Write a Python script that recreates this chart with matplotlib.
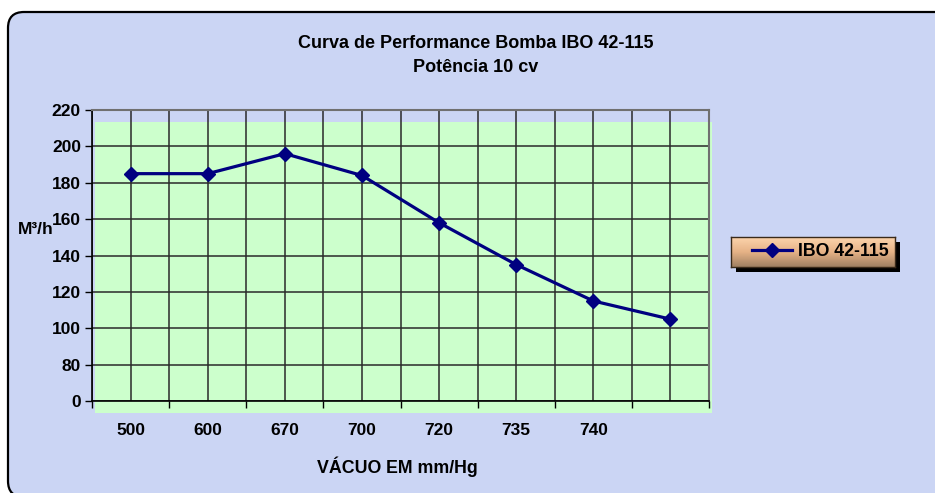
import numpy as np
import matplotlib
matplotlib.use("Agg")
import matplotlib.pyplot as plt
from matplotlib.patches import Rectangle, PathPatch
from matplotlib.path import Path
from matplotlib.transforms import IdentityTransform
from matplotlib.colors import LinearSegmentedColormap
from matplotlib.lines import Line2D

plt.rcParams['font.family'] = ['Liberation Sans', 'DejaVu Sans']
plt.rcParams['font.weight'] = 'bold'

# ---- data ----
categories = ['500', '600', '670', '700', '720', '735', '740', '']
flow = [185, 185, 196, 184, 158, 135, 115, 105]
y_ticks = [60, 80, 100, 120, 140, 160, 180, 200, 220]
y_tick_labels = ['0', '80', '100', '120', '140', '160', '180', '200', '220']
series_name = 'IBO 42-115'
title_1 = 'Curva de Performance Bomba IBO 42-115'
title_2 = 'Potência 10 cv'
x_label = 'VÁCUO EM mm/Hg'
y_label = 'M³/h'

W, H = 935, 493
def fx(px): return px / W
def fy(py): return 1 - py / H

fig = plt.figure(figsize=(W / 100, H / 100), dpi=100, facecolor='white')

# chart area background with rounded left corners; right side runs off the image
r = 16
L, T, B, R = 8, H - 12, H - 497, 1300
verts = [(R, T), (L + r, T), (L, T), (L, T - r), (L, B + r), (L, B), (L + r, B),
         (R, B), (R, T)]
codes = [Path.MOVETO, Path.LINETO, Path.CURVE3, Path.CURVE3, Path.LINETO,
         Path.CURVE3, Path.CURVE3, Path.LINETO, Path.CLOSEPOLY]
bg = PathPatch(Path(verts, codes), transform=IdentityTransform(),
               facecolor='#cbd5f4', edgecolor='none', zorder=-3)
fig.patches.append(bg)
edge_verts = verts[:8]
edge_codes = codes[:8]
edge = PathPatch(Path(edge_verts, edge_codes), transform=IdentityTransform(),
                 facecolor='none', edgecolor='black', linewidth=1.6, zorder=-3)
fig.patches.append(edge)

# green plot-area fill (offset as in reference)
green = Rectangle((fx(95), fy(413)), (712 - 95) / W, (413 - 122) / H,
                  transform=fig.transFigure, facecolor='#ccffcc',
                  edgecolor='none', zorder=-2)
fig.patches.append(green)

ax = fig.add_axes([fx(92), fy(401), (709 - 92) / W, (401 - 110) / H])
ax.set_facecolor('none')

x = np.arange(len(categories))
ax.plot(x, flow, color='#000080', linewidth=2.3, marker='D', markersize=7.5,
        markerfacecolor='#000080', markeredgecolor='#000080', zorder=5,
        clip_on=False)

ax.set_xlim(-0.5, len(categories) - 0.5)
ax.set_ylim(y_ticks[0], y_ticks[-1])

ax.set_xticks(x)
ax.set_xticklabels(categories)
ax.set_xticks(np.arange(-0.5, len(categories), 1.0), minor=True)
ax.tick_params(axis='x', which='major', length=0, pad=16, labelsize=12.5)
ax.tick_params(axis='x', which='minor', length=5, width=1, direction='out', color='black')
ax.set_yticks(y_ticks)
ax.set_yticklabels(y_tick_labels)
ax.tick_params(axis='y', which='major', length=5, width=1, direction='out',
               pad=3, labelsize=12.5, color='black')

ax.grid(True, axis='x', which='both', color='#2a2a2a', linewidth=1.1)
ax.grid(True, axis='y', which='major', color='#2a2a2a', linewidth=1.1)
ax.set_axisbelow(True)

for s in ['top', 'right']:
    ax.spines[s].set_color('#707070')
    ax.spines[s].set_linewidth(1.5)
for s in ['left', 'bottom']:
    ax.spines[s].set_color('black')
    ax.spines[s].set_linewidth(1.2)

# titles and labels
fig.text(fx(476), fy(43), title_1, ha='center', va='center', fontsize=13, fontweight='bold')
fig.text(fx(476), fy(67), title_2, ha='center', va='center', fontsize=13, fontweight='bold')
fig.text(fx(397), fy(467), x_label, ha='center', va='center', fontsize=12.8, fontweight='bold')
fig.text(fx(18), fy(229), y_label, ha='left', va='center', fontsize=12.5, fontweight='bold')

# legend: shadow + gradient box + legend entries
shadow = Rectangle((fx(736), fy(272)), 164 / W, 30 / H, transform=fig.transFigure,
                   facecolor='black', edgecolor='none', zorder=1)
fig.patches.append(shadow)
lax = fig.add_axes([fx(731), fy(267), 164 / W, 30 / H], zorder=2)
cmap = LinearSegmentedColormap.from_list('peach', ['#fcd4ac', '#e6b286', '#a08062'])
lax.imshow(np.linspace(0, 1, 64).reshape(-1, 1), aspect='auto', cmap=cmap,
           extent=[0, 1, 0, 1])
lax.set_xticks([]); lax.set_yticks([])
for s in lax.spines.values():
    s.set_color('#3a2a1a'); s.set_linewidth(1)

handle = Line2D([], [], color='#000080', linewidth=2.3, marker='D', markersize=7.5,
                markerfacecolor='#000080', markeredgecolor='#000080')
leg = fig.legend([handle], [series_name], loc='center', bbox_to_anchor=(fx(820), fy(252)),
                 frameon=False, fontsize=12.8, handlelength=2.3, handletextpad=0.3,
                 borderpad=0)
leg.set_zorder(10)
for t in leg.get_texts():
    t.set_fontweight('bold')

fig.savefig('out.png', dpi=100, facecolor='white')
